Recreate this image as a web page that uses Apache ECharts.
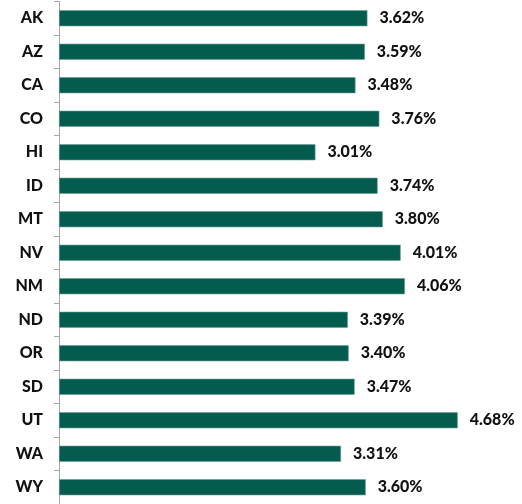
<!DOCTYPE html>
<html>
<head>
<meta charset="utf-8">
<script src="https://cdn.jsdelivr.net/npm/echarts@6/dist/echarts.min.js"></script>
<style>
  html, body { margin: 0; padding: 0; background: #fff; }
  #chart { width: 522px; height: 504px; }
</style>
</head>
<body>
<div id="chart"></div>
<script>
const states = ['AK', 'AZ', 'CA', 'CO', 'HI', 'ID', 'MT', 'NV', 'NM', 'ND', 'OR', 'SD', 'UT', 'WA', 'WY'];
const rates = [3.62, 3.59, 3.48, 3.76, 3.01, 3.74, 3.80, 4.01, 4.06, 3.39, 3.40, 3.47, 4.68, 3.31, 3.60];

const chart = echarts.init(document.getElementById('chart'), null, { renderer: 'canvas' });

const option = {
  animation: false,
  grid: {
    left: 59,
    top: 1.5,
    width: 426,
    height: 505,
    containLabel: false,
  },
  xAxis: {
    type: 'value',
    min: 0,
    max: 5,
    show: false,
  },
  yAxis: {
    type: 'category',
    inverse: true,
    data: states,
    axisLine: {
      show: true,
      lineStyle: { color: '#a6a6a6', width: 1 },
    },
    axisTick: {
      show: true,
      length: 5,
      lineStyle: { color: '#a6a6a6' },
    },
    axisLabel: {
      margin: 16,
      color: '#111',
      fontFamily: 'Lato',
      fontWeight: 900,
      fontSize: 16,
    },
  },
  series: [
    {
      type: 'bar',
      data: rates,
      barWidth: 16,
      itemStyle: {
        color: '#045c4f',
        borderColor: '#6a9e94',
        borderWidth: 0.6,
      },
      label: {
        show: true,
        position: 'right',
        distance: 12,
        color: '#111',
        fontFamily: 'Lato',
        fontWeight: 900,
        fontSize: 16,
        formatter: (p) => p.value.toFixed(2) + '%',
      },
    },
  ],
};

chart.setOption(option);
</script>
</body>
</html>
